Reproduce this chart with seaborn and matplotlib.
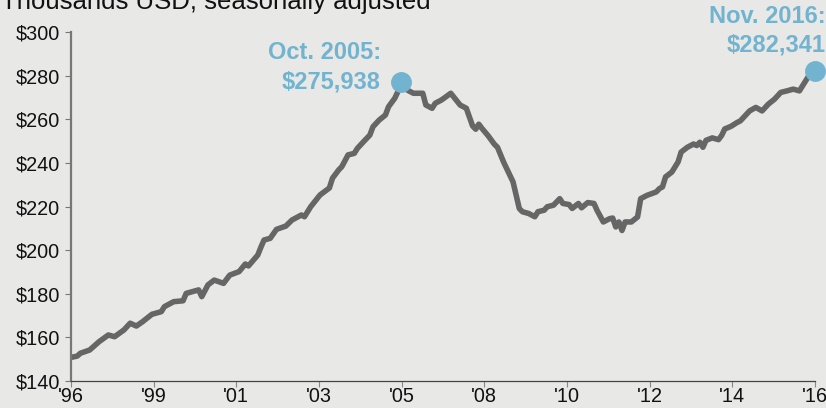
import numpy as np
import pandas as pd
import matplotlib
matplotlib.use("Agg")
import matplotlib.pyplot as plt
import seaborn as sns

# Month index counted from Dec 1996 (0) to Nov 2016 (239); values in thousands USD
month_idx = [0, 2, 3, 6, 9, 12, 14, 17, 19, 21, 23, 26, 29, 30, 33, 36, 37, 39, 41, 42,
             44, 46, 49, 51, 54, 56, 57, 60, 61, 62, 64, 66, 69, 71, 74, 75, 77, 78, 80, 83,
             84, 86, 87, 89, 91, 92, 94, 96, 97, 99, 101, 102, 104, 105, 106, 108, 110, 113, 114, 116,
             117, 119, 122, 123, 125, 127, 129, 130, 131, 132, 134, 136, 137, 139, 140, 142, 143, 144, 145, 147,
             149, 150, 152, 153, 155, 157, 158, 160, 161, 163, 164, 166, 168, 169, 171, 173, 174, 175, 176, 177,
             178, 180, 182, 183, 185, 188, 189, 190, 191, 193, 195, 196, 198, 200, 201, 202, 203, 204, 206, 208,
             209, 210, 212, 214, 215, 218, 220, 222, 224, 226, 228, 230, 232, 234, 236, 237, 239]
price = [150.7, 151.3, 152.6, 154.1, 157.9, 161.0, 160.2, 163.3, 166.4, 165.1, 167.1, 170.5, 171.7, 174.0, 176.3, 176.7, 180.1, 180.9, 181.7, 178.6,
         184.0, 186.2, 184.7, 188.5, 190.1, 193.6, 192.7, 197.7, 201.3, 204.6, 205.4, 209.5, 211.0, 213.8, 216.1, 215.3, 219.9, 221.7, 225.3, 228.5,
         233.0, 236.8, 238.3, 243.7, 244.4, 246.7, 249.8, 252.8, 256.6, 259.7, 262.0, 265.8, 269.7, 272.7, 277.2, 273.5, 272.0, 272.0, 266.6, 265.1,
         267.4, 268.9, 272.0, 270.2, 266.6, 265.1, 257.0, 255.5, 257.8, 255.9, 252.5, 248.6, 247.2, 240.3, 237.3, 231.3, 225.1, 219.1, 217.6, 216.8,
         215.3, 217.6, 218.3, 219.9, 220.6, 223.6, 221.4, 220.9, 219.1, 221.4, 219.4, 221.8, 221.4, 218.2, 212.9, 214.4, 214.7, 210.6, 212.9, 209.0,
         212.9, 212.9, 215.2, 223.6, 225.1, 226.7, 228.2, 229.0, 233.6, 235.8, 240.4, 245.0, 247.2, 248.7, 248.0, 249.5, 247.2, 250.4, 251.5, 250.7,
         252.6, 255.6, 256.8, 258.6, 259.3, 263.9, 265.5, 263.9, 267.0, 269.3, 272.4, 273.1, 273.9, 273.1, 277.7, 280.0, 282.3]

tick_labels = ["'96", "'99", "'01", "'03", "'05", "'08", "'10", "'12", "'14", "'16"]
y_ticks = [140, 160, 180, 200, 220, 240, 260, 280, 300]

peak_idx, peak_label = 106, ["Oct. 2005:", "$275,938"]
last_idx, last_label = 239, ["Nov. 2016:", "$282,341"]

df = pd.DataFrame({"month": month_idx, "price": price})

sns.set_style("ticks")
plt.rcParams["font.family"] = ["Liberation Sans", "DejaVu Sans"]

BG = "#e8e8e7"
LINE = "#666666"
BLUE = "#72b3cf"

fig = plt.figure(figsize=(8.26, 4.08), dpi=100, facecolor=BG)
ax = fig.add_axes([71 / 826, (408 - 380.7) / 408, 744 / 826, 348.4 / 408])
ax.set_facecolor(BG)

sns.lineplot(data=df, x="month", y="price", ax=ax, color=LINE, linewidth=4.0,
             solid_joinstyle="round", solid_capstyle="round")

ax.set_xlim(0, 239)
ax.set_ylim(140, 300)
ax.set_xticks(np.linspace(0, 239, len(tick_labels)))
ax.set_xticklabels(tick_labels)
ax.set_yticks(y_ticks)
ax.set_yticklabels([f"${v}" for v in y_ticks])
ax.set_xlabel("")
ax.set_ylabel("")

for s in ["top", "right"]:
    ax.spines[s].set_visible(False)
ax.spines["left"].set_color("#777777")
ax.spines["left"].set_linewidth(1.6)
ax.spines["bottom"].set_color("#444444")
ax.spines["bottom"].set_linewidth(0.9)
ax.tick_params(axis="y", length=4, width=0.8, color="#777777", labelsize=14.3, pad=4, labelcolor="#111111")
ax.tick_params(axis="x", length=4, width=0.8, color="#888888", labelsize=14.3, pad=0.5, labelcolor="#111111")

for idx in (peak_idx, last_idx):
    v = price[month_idx.index(idx)]
    ax.plot([idx], [v], "o", color=BLUE, markersize=14, clip_on=False, zorder=5)

pv = price[month_idx.index(peak_idx)]
ax.annotate(peak_label[0], xy=(peak_idx, pv), xytext=(-20, 29), textcoords="offset pixels",
            ha="right", va="center", fontsize=17, fontweight="bold", color=BLUE)
ax.annotate(peak_label[1], xy=(peak_idx, pv), xytext=(-20, 0), textcoords="offset pixels",
            ha="right", va="center", fontsize=17, fontweight="bold", color=BLUE)
lv = price[month_idx.index(last_idx)]
ax.annotate(last_label[0], xy=(last_idx, lv), xytext=(11, 54), textcoords="offset pixels",
            ha="right", va="center", fontsize=17, fontweight="bold", color=BLUE, annotation_clip=False)
ax.annotate(last_label[1], xy=(last_idx, lv), xytext=(11, 26), textcoords="offset pixels",
            ha="right", va="center", fontsize=17, fontweight="bold", color=BLUE, annotation_clip=False)

fig.text(0.001, 1 - 9 / 408, "Thousands USD, seasonally adjusted", ha="left", va="baseline",
         fontsize=18.5, color="#111111")

fig.savefig("out.png", dpi=100, facecolor=BG)
